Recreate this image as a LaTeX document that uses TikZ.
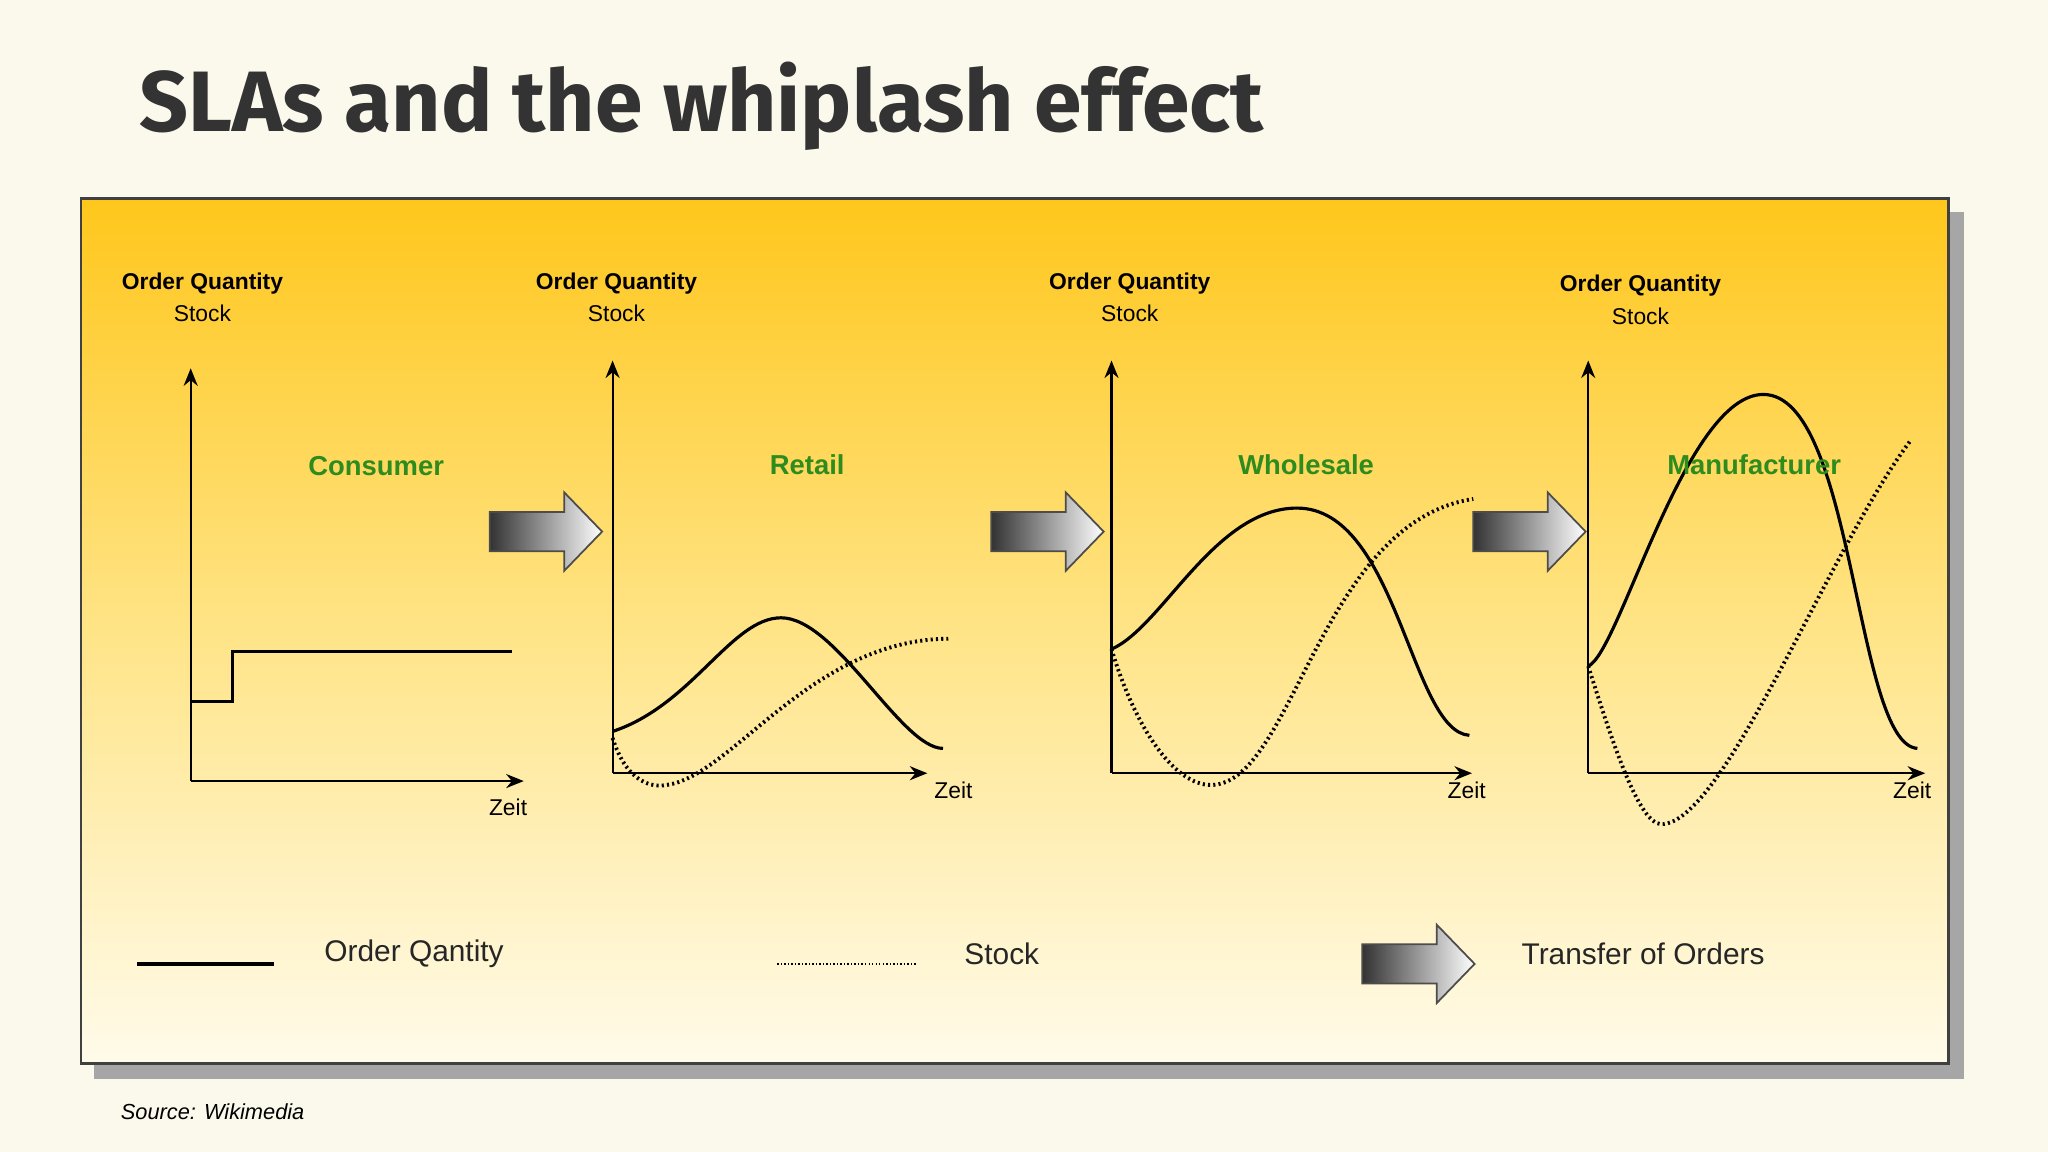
\documentclass[tikz,border=0pt]{standalone}
\usepackage{fontspec}
\setmainfont{Liberation Sans}
\newfontfamily\titlefont{Fira Sans}
\usetikzlibrary{arrows.meta}
\definecolor{bgc}{HTML}{FBF8EC}
\definecolor{titc}{HTML}{333333}
\definecolor{panT}{HTML}{FFC71C}
\definecolor{panM}{HTML}{FFE487}
\definecolor{panB}{HTML}{FFFBEA}
\definecolor{grn}{HTML}{2E8B1E}
\tikzset{
  axis/.style={line width=0.6pt,-{Stealth[length=5pt,width=4pt]}},
  oq/.style={line width=0.9pt},
  st/.style={line width=1.1pt,dash pattern=on 0.6pt off 0.9pt},
  ylab/.style={font=\fontsize{6.5}{7}\selectfont, align=center},
  ylabb/.style={font=\bfseries\fontsize{6.5}{7}\selectfont},
  zeit/.style={font=\fontsize{6.5}{7}\selectfont},
  stage/.style={font=\bfseries\fontsize{7.8}{9}\selectfont, text=grn},
  legt/.style={font=\fontsize{8.5}{10}\selectfont, text=black!85},
  pics/blockarrow/.style={code={
    \shade[left color=black!80, right color=white, draw=black!70, line width=0.5pt]
      (0,-15)--(57,-15)--(57,-30)--(86,0)--(57,30)--(57,15)--(0,15)--cycle;}}
}
\begin{document}
\begin{tikzpicture}[x=0.013061cm,y=-0.013061cm]
\fill[bgc] (0,0) rectangle (1568,882);
\node[anchor=base west, inner sep=0, text=titc, font=\titlefont\bfseries\fontsize{24.4}{26}\selectfont] (title) at (106,101) {SLAs and the whiplash effect};
% panel
\fill[black!35] (72,162) rectangle (1504,826);
\shade[top color=panT, bottom color=panB, middle color=panM] (62,152) rectangle (1492,814);
\draw[black!75, line width=0.8pt] (62,152) rectangle (1492,814);
\node[anchor=base west, inner sep=0, font=\itshape\fontsize{6.2}{7}\selectfont] (src) at (92,857) {Source: Wikimedia};
% Consumer
\node[ylabb] (l1a) at (155,217) {Order Quantity};
\node[ylab] (l1b) at (155,240) {Stock};
\draw[axis] (146,598) -- (146,282);
\draw[axis] (146,598) -- (401,598);
\node[zeit] (z1) at (389,618) {Zeit};
\draw[oq] (146,537) -- (178,537) -- (178,499) -- (392,499);
\node[stage] (s1) at (288,357) {Consumer};
% Retail
\node[ylabb] (l2a) at (472,217) {Order Quantity};
\node[ylab] (l2b) at (472,240) {Stock};
\draw[axis] (469,592) -- (469,276);
\draw[axis] (469,592) -- (710,592);
\node[zeit] (z2) at (730,605) {Zeit};
\draw[oq] (469,560) .. controls (530,540) and (560,473) .. (598,473) .. controls (640,473) and (690,573) .. (722,573);
\draw[st] (469,565) .. controls (480,600) and (500,603) .. (510,601) .. controls (560,595) and (620,490) .. (726,489);
\node[stage] (s2) at (618,356) {Retail};
% Wholesale
\node[ylabb] (l3a) at (865,217) {Order Quantity};
\node[ylab] (l3b) at (865,240) {Stock};
\draw[axis] (851,592) -- (851,276);
\draw[axis] (851,592) -- (1127,592);
\node[zeit] (z3) at (1123,605) {Zeit};
\draw[oq] (851,497) .. controls (890,480) and (930,389) .. (993,389) .. controls (1070,389) and (1080,560) .. (1125,563);
\draw[st] (851,497) .. controls (870,560) and (900,601) .. (927,601) .. controls (990,601) and (1010,400) .. (1128,382);
\node[stage] (s3) at (1000,356) {Wholesale};
% Manufacturer
\node[ylabb] (l4a) at (1256,219) {Order Quantity};
\node[ylab] (l4b) at (1256,242) {Stock};
\draw[axis] (1216,592) -- (1216,276);
\draw[axis] (1216,592) -- (1474,592);
\node[zeit] (z4) at (1464,605) {Zeit};
\draw[oq] (1216,510) .. controls (1240,500) and (1290,302) .. (1350,302) .. controls (1420,302) and (1420,570) .. (1468,573);
\draw[st] (1216,510) .. controls (1235,570) and (1255,631) .. (1272,631) .. controls (1320,631) and (1400,420) .. (1463,337);
\node[stage] (s4) at (1343,356) {Manufacturer};
% transfer arrows
\pic at (375,407) {blockarrow};
\pic at (759,407) {blockarrow};
\pic at (1128,407) {blockarrow};
% legend
\coordinate (la) at (105,738); \coordinate (lb) at (210,738);
\draw[oq] (la) -- (lb);
\node[legt] (t1) at (317,730) {Order Qantity};
\coordinate (lc) at (595,738); \coordinate (ld) at (702,738);
\draw[line width=0.7pt, dash pattern=on 0.4pt off 0.6pt] (lc) -- (ld);
\node[legt] (t2) at (767,730) {Stock};
\pic at (1043,738) {blockarrow};
\node[legt] (t3) at (1258,730) {Transfer of Orders};
\end{tikzpicture}
\end{document}
